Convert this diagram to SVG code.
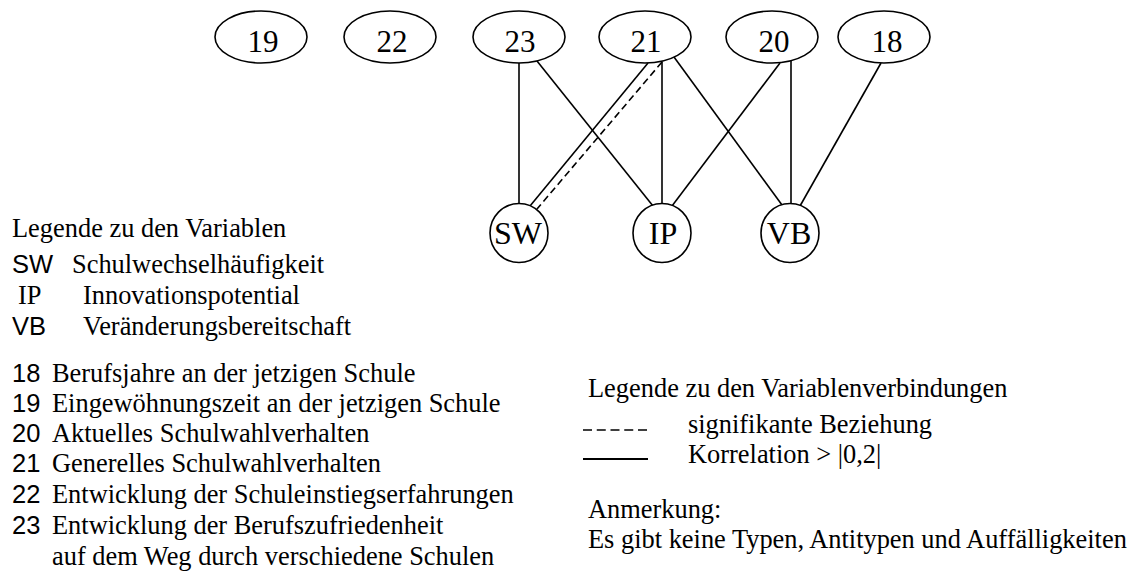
<svg xmlns="http://www.w3.org/2000/svg" width="1146" height="571" viewBox="0 0 1146 571">
<style>
.node ellipse{fill:#fff;stroke:#000;stroke-width:1.6}
.nl{font-family:"Liberation Serif","Times New Roman",serif;font-size:31px;text-anchor:middle;fill:#000}
.cl{font-family:"Liberation Serif","Times New Roman",serif;font-size:32px;text-anchor:middle;fill:#000}
.edge line{stroke:#000;stroke-width:1.6;fill:none}
.edge line.dash{stroke-dasharray:7 4}
.t{font-family:"Liberation Serif","Times New Roman",serif;font-size:26.4px;fill:#000}
.s{font-family:"Liberation Sans",Arial,sans-serif;font-size:25.5px;fill:#000}
</style>
<rect width="1146" height="571" fill="#fff"/>
<g id="connectors" class="edge">
<line x1="519" y1="63" x2="519" y2="204"/>
<line x1="537" y1="61" x2="653" y2="206"/>
<line x1="648" y1="63" x2="530" y2="206"/>
<line class="dash" x1="662" y1="62" x2="537" y2="209"/>
<line x1="662" y1="62" x2="662" y2="204"/>
<line x1="674" y1="57" x2="782" y2="205"/>
<line x1="780" y1="63" x2="672" y2="206"/>
<line x1="791" y1="61" x2="791" y2="204"/>
<line x1="881" y1="63" x2="800" y2="206"/>
</g>
<g id="n19" class="node"><ellipse cx="261" cy="37" rx="46" ry="26"/><text class="nl" x="263" y="52">19</text></g>
<g id="n22" class="node"><ellipse cx="390" cy="37" rx="46" ry="26"/><text class="nl" x="392" y="52">22</text></g>
<g id="n23" class="node"><ellipse cx="519" cy="37" rx="46" ry="26"/><text class="nl" x="520" y="52">23</text></g>
<g id="n21" class="node"><ellipse cx="645" cy="37" rx="46" ry="26"/><text class="nl" x="646" y="52">21</text></g>
<g id="n20" class="node"><ellipse cx="772" cy="37" rx="46" ry="26"/><text class="nl" x="774" y="52">20</text></g>
<g id="n18" class="node"><ellipse cx="884" cy="37" rx="46" ry="26"/><text class="nl" x="887" y="52">18</text></g>
<g id="nSW" class="node"><ellipse cx="519" cy="233" rx="29" ry="29.5"/><text class="cl" x="518" y="244">SW</text></g>
<g id="nIP" class="node"><ellipse cx="662" cy="233" rx="29" ry="29.5"/><text class="cl" x="663" y="244">IP</text></g>
<g id="nVB" class="node"><ellipse cx="790" cy="233" rx="29" ry="29.5"/><text class="cl" x="789" y="244">VB</text></g>
<g id="legend-variables">
<text class="t" x="12" y="237">Legende zu den Variablen</text>
<text class="s" x="12" y="273">SW</text><text class="t" x="72" y="273">Schulwechselhäufigkeit</text>
<text class="t" x="18" y="304">IP</text><text class="t" x="83" y="304">Innovationspotential</text>
<text class="s" x="12" y="335">VB</text><text class="t" x="83" y="335">Veränderungsbereitschaft</text>
<text class="s" x="12" y="382">18</text><text class="t" x="52" y="382">Berufsjahre an der jetzigen Schule</text>
<text class="s" x="12" y="412">19</text><text class="t" x="52" y="412">Eingewöhnungszeit an der jetzigen Schule</text>
<text class="s" x="12" y="442">20</text><text class="t" x="52" y="442">Aktuelles Schulwahlverhalten</text>
<text class="s" x="12" y="472">21</text><text class="t" x="52" y="472">Generelles Schulwahlverhalten</text>
<text class="s" x="12" y="503">22</text><text class="t" x="52" y="503">Entwicklung der Schuleinstiegserfahrungen</text>
<text class="s" x="12" y="534">23</text><text class="t" x="52" y="534">Entwicklung der Berufszufriedenheit</text>
<text class="t" x="52" y="565">auf dem Weg durch verschiedene Schulen</text>
</g>
<g id="legend-connections">
<text class="t" x="588" y="397">Legende zu den Variablenverbindungen</text>
<line x1="583" y1="430" x2="647" y2="430" stroke="#000" stroke-width="1.5" stroke-dasharray="9 4.75"/>
<text class="t" x="688" y="433">signifikante Beziehung</text>
<line x1="583" y1="459" x2="648" y2="459" stroke="#000" stroke-width="2.2"/>
<text class="t" x="688" y="463">Korrelation &gt; |0,2|</text>
<text class="t" x="588" y="518">Anmerkung:</text>
<text class="t" x="588" y="548">Es gibt keine Typen, Antitypen und Auffälligkeiten</text>
</g>
</svg>
